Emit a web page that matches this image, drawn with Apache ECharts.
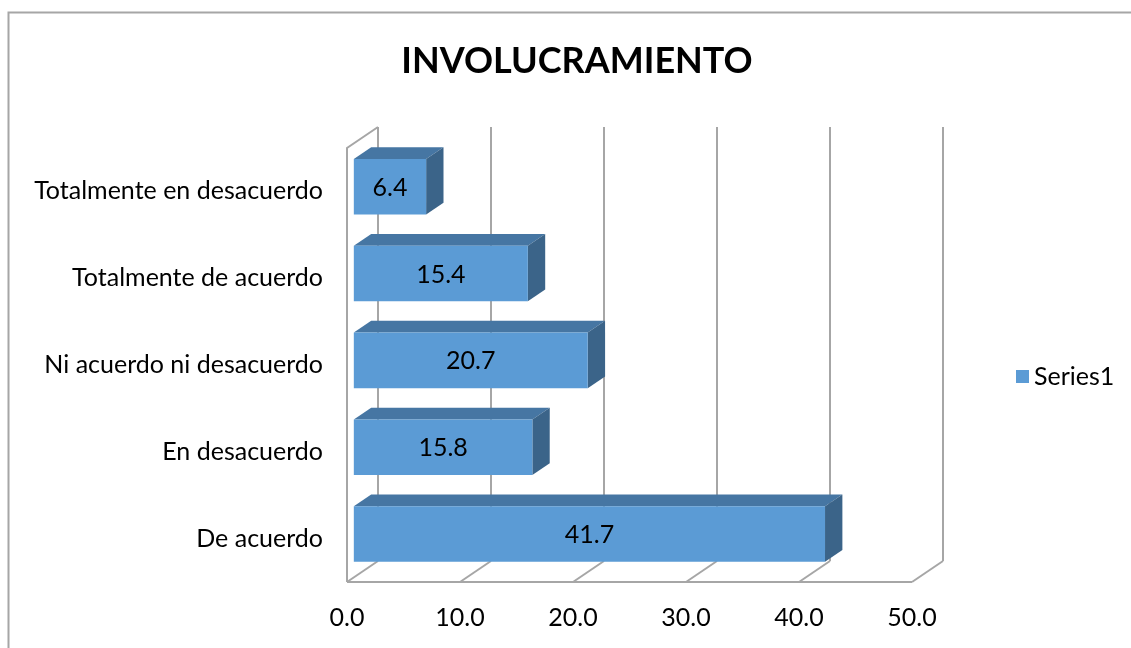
<!DOCTYPE html>
<html>
<head>
<meta charset="utf-8">
<script src="https://cdn.jsdelivr.net/npm/echarts@6/dist/echarts.min.js"></script>
<style>
  html, body { margin: 0; padding: 0; background: #ffffff; }
  #chart { width: 1131px; height: 648px; }
</style>
</head>
<body>
<div id="chart"></div>
<script>
// Response categories, bottom to top
const categories = [
  'De acuerdo',
  'En desacuerdo',
  'Ni acuerdo ni desacuerdo',
  'Totalmente de acuerdo',
  'Totalmente en desacuerdo'
];
// Percentages per category
const values = [41.7, 15.8, 20.7, 15.4, 6.4];
// Value axis ticks
const ticks = [0, 10, 20, 30, 40, 50];
const seriesName = 'Series1';

// 3D look: full floor depth vector and the slice of it occupied by bars
const DEPTH = [31, -21];
const BAR_T0 = 0.22;
const BAR_T1 = 0.78;
const BAR_BAND = 0.64;

const FONT = 'Lato';
const FS = 25;
const LINE = '#a6a6a6';
const FRONT = '#5b9bd5';
const TOP = '#4676a3';
const SIDE = '#3b6489';

function off(p, t) { return [p[0] + DEPTH[0] * t, p[1] + DEPTH[1] * t]; }

// Walls, floor and gridlines of the box
function renderFrame(params, api) {
  const cs = params.coordSys;
  const left = cs.x, bottom = cs.y + cs.height, top = cs.y;
  const children = [];
  const ls = { stroke: LINE, lineWidth: 2 };
  ticks.forEach(function (v) {
    const p = [api.coord([v, 0])[0], bottom];
    const b = off(p, 1);
    // diagonal on floor
    children.push({ type: 'line', shape: { x1: p[0], y1: p[1], x2: b[0], y2: b[1] }, style: ls });
    // vertical on back wall
    children.push({ type: 'line', shape: { x1: b[0], y1: b[1], x2: b[0], y2: top + DEPTH[1] }, style: ls });
  });
  // floor front edge
  const xr = api.coord([ticks[ticks.length - 1], 0])[0];
  children.push({ type: 'line', shape: { x1: left, y1: bottom, x2: xr, y2: bottom }, style: ls });
  // left wall
  const lt = off([left, top], 1);
  children.push({ type: 'polyline', shape: { points: [[left, bottom], [left, top], lt] }, style: Object.assign({ fill: null }, ls) });
  return { type: 'group', children: children };
}

// 3D horizontal bar: front, top and side faces
function renderBar(params, api) {
  const cat = api.value(0);
  const val = api.value(1);
  const c0 = api.coord([0, cat]);
  const c1 = api.coord([val, cat]);
  const band = api.size([0, 1])[1] * BAR_BAND;
  const y0 = c0[1] - band / 2, y1 = c0[1] + band / 2;
  const fl = off([c0[0], y0], BAR_T0);
  const fr = off([c1[0], y0], BAR_T0);
  const frb = off([c1[0], y1], BAR_T0);
  const fl2 = off([c0[0], y1], BAR_T0);
  const d = BAR_T1 - BAR_T0;
  const bl = off(fl, d), br = off(fr, d), brb = off(frb, d);
  return {
    type: 'group',
    children: [
      { type: 'polygon', shape: { points: [fl, fr, br, bl] }, style: { fill: TOP } },
      { type: 'polygon', shape: { points: [fr, br, brb, frb] }, style: { fill: SIDE } },
      { type: 'polygon', shape: { points: [fl, fr, frb, fl2] }, style: { fill: FRONT } },
      {
        type: 'text',
        style: {
          text: val.toFixed(1),
          x: (fl[0] + fr[0]) / 2, y: (fl[1] + fl2[1]) / 2 + 1,
          align: 'center', verticalAlign: 'middle',
          fontFamily: FONT, fontSize: FS, fill: '#000'
        }
      }
    ]
  };
}

const chart = echarts.init(document.getElementById('chart'), null, { renderer: 'canvas' });
chart.setOption({
  animation: false,
  backgroundColor: '#ffffff',
  graphic: [{
    type: 'polyline', silent: true,
    shape: { points: [[8.5, 660], [8.5, 12.5], [1140, 12.5]] },
    style: { stroke: '#a6a6a6', lineWidth: 2, fill: null }
  }],
  title: {
    text: 'INVOLUCRAMIENTO',
    left: 572, top: 38, textAlign: 'center',
    textStyle: { fontFamily: FONT, fontSize: 36, fontWeight: 'bold', color: '#000' }
  },
  legend: {
    data: [{ name: seriesName, icon: 'rect', itemStyle: { color: FRONT } }],
    left: 1011, top: 359,
    itemWidth: 13, itemHeight: 13, itemGap: 6,
    textStyle: { fontFamily: FONT, fontSize: FS, color: '#000' }
  },
  grid: { left: 347, right: 219, top: 148, bottom: 66, containLabel: false },
  xAxis: {
    type: 'value', min: 0, max: 50, interval: 10,
    axisLine: { show: false }, axisTick: { show: false }, splitLine: { show: false },
    axisLabel: { margin: 23, fontFamily: FONT, fontSize: FS, color: '#000',
      formatter: function (v) { return v.toFixed(1); } }
  },
  yAxis: {
    type: 'category', data: categories,
    axisLine: { show: false }, axisTick: { show: false }, splitLine: { show: false },
    axisLabel: { margin: 24, fontFamily: FONT, fontSize: FS, color: '#000' }
  },
  series: [
    {
      type: 'custom', name: 'frame', silent: true, z: 1,
      renderItem: renderFrame, data: [[0, 0]], encode: { x: 0, y: 1 }
    },
    {
      type: 'custom', name: seriesName, z: 2,
      itemStyle: { color: FRONT },
      renderItem: renderBar,
      encode: { x: 1, y: 0 },
      data: values.map(function (v, i) { return [i, v]; })
    }
  ]
});
</script>
</body>
</html>
